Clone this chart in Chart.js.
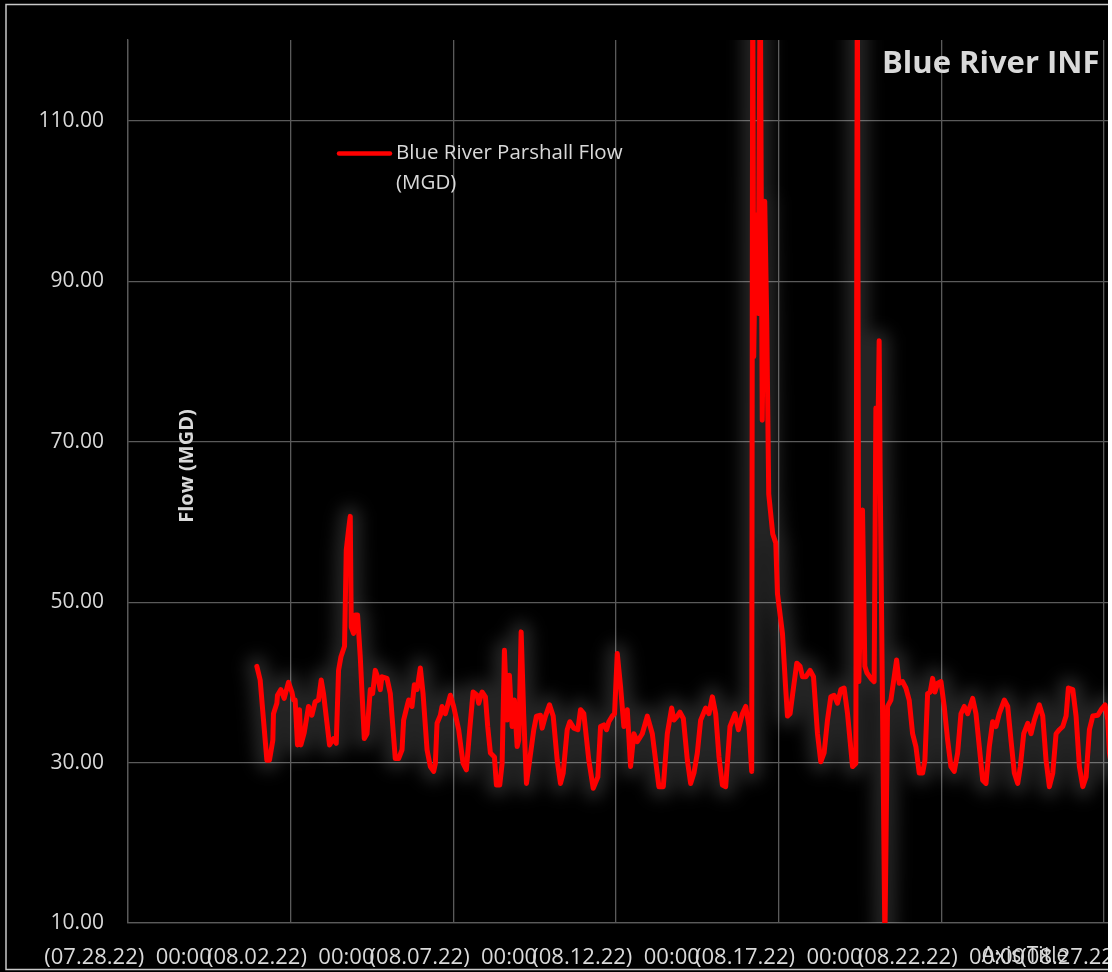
<!DOCTYPE html>
<html>
<head>
<meta charset="utf-8">
<title>Blue River INF</title>
<script src="https://cdn.jsdelivr.net/npm/chart.js@4.4.0/dist/chart.umd.min.js"></script>
<style>
 html, body { margin: 0; padding: 0; background: #fff; }
 #wrap { position: relative; width: 1108px; height: 972px; overflow: hidden; background: #000; }
 #flowChart { position: absolute; left: 0; top: 0; }
</style>
</head>
<body>
<div id="wrap"><canvas id="flowChart" width="1218" height="972"></canvas></div>
<script>
// x values are days after (07.28.22) 00:00
var tickDays = [0, 5, 10, 15, 20, 25, 30];
var tickLabels = [
 "(07.28.22)  00:00",
 "(08.02.22)  00:00",
 "(08.07.22)  00:00",
 "(08.12.22)  00:00",
 "(08.17.22)  00:00",
 "(08.22.22)  00:00",
 "(08.27.22)  00:00",
];
var yTicks = [10, 30, 50, 70, 90, 110];

var flowDays = [
 3.960, 4.062, 4.268, 4.348, 4.452, 4.471, 4.575, 4.594, 4.698, 4.800,
 4.932, 5.037, 5.086, 5.138, 5.209, 5.271, 5.314, 5.415, 5.548, 5.652,
 5.754, 5.855, 5.938, 6.009, 6.194, 6.317, 6.400, 6.471, 6.545, 6.655,
 6.708, 6.778, 6.831, 6.862, 6.932, 6.985, 7.055, 7.138, 7.262, 7.345,
 7.446, 7.517, 7.600, 7.671, 7.754, 7.806, 7.960, 8.062, 8.215, 8.317,
 8.422, 8.471, 8.575, 8.625, 8.729, 8.800, 8.883, 8.985, 9.068, 9.191,
 9.292, 9.394, 9.446, 9.498, 9.600, 9.652, 9.754, 9.908, 10.009, 10.163,
 10.298, 10.400, 10.502, 10.606, 10.729, 10.778, 10.883, 10.985, 11.055, 11.138,
 11.262, 11.323, 11.425, 11.498, 11.569, 11.652, 11.723, 11.806, 11.877, 11.960,
 12.009, 12.083, 12.163, 12.246, 12.317, 12.471, 12.554, 12.677, 12.729, 12.831,
 12.954, 13.068, 13.191, 13.292, 13.375, 13.498, 13.578, 13.702, 13.825, 13.908,
 14.009, 14.163, 14.298, 14.440, 14.523, 14.625, 14.708, 14.778, 14.883, 14.954,
 15.037, 15.138, 15.240, 15.345, 15.446, 15.548, 15.652, 15.806, 15.960, 16.114,
 16.215, 16.317, 16.452, 16.575, 16.708, 16.778, 16.883, 16.963, 17.068, 17.191,
 17.292, 17.394, 17.498, 17.600, 17.754, 17.855, 17.960, 18.062, 18.163, 18.268,
 18.369, 18.502, 18.655, 18.760, 18.883, 18.985, 19.086, 19.169, 19.200, 19.231,
 19.292, 19.369, 19.431, 19.492, 19.569, 19.631, 19.692, 19.815, 19.908, 19.960,
 20.114, 20.215, 20.268, 20.348, 20.471, 20.554, 20.655, 20.729, 20.831, 20.963,
 21.068, 21.191, 21.292, 21.394, 21.498, 21.600, 21.702, 21.806, 21.908, 22.009,
 22.114, 22.268, 22.369, 22.415, 22.462, 22.575, 22.646, 22.708, 22.831, 22.932,
 22.985, 23.031, 23.086, 23.117, 23.262, 23.345, 23.446, 23.548, 23.622, 23.702,
 23.806, 23.908, 24.009, 24.114, 24.215, 24.317, 24.422, 24.492, 24.575, 24.655,
 24.729, 24.800, 24.883, 24.985, 25.086, 25.191, 25.292, 25.394, 25.498, 25.600,
 25.702, 25.806, 25.960, 26.062, 26.163, 26.268, 26.369, 26.471, 26.575, 26.677,
 26.778, 26.932, 27.037, 27.138, 27.240, 27.345, 27.425, 27.529, 27.652, 27.754,
 27.855, 28.009, 28.114, 28.215, 28.317, 28.422, 28.523, 28.625, 28.729, 28.831,
 28.902, 29.037, 29.138, 29.240, 29.345, 29.446, 29.548, 29.652, 29.806, 29.908,
 30.031, 30.114, 30.163, 30.246,
];

var flowMGD = [
 42.0, 40.3, 30.3, 30.3, 32.8, 36.1, 37.4, 38.4, 39.1, 38.0,
 40.0, 38.8, 37.8, 37.8, 32.2, 36.6, 32.2, 33.7, 37.0, 35.9,
 37.6, 37.8, 40.3, 38.6, 32.2, 33.0, 32.4, 41.5, 43.2, 44.5,
 56.5, 59.0, 60.7, 46.9, 46.1, 48.4, 48.4, 43.2, 33.0, 33.6,
 39.1, 38.6, 41.5, 40.7, 39.1, 40.7, 40.5, 38.6, 30.5, 30.5,
 31.6, 35.3, 37.0, 37.8, 37.0, 39.7, 39.1, 41.8, 38.6, 31.6,
 29.5, 28.9, 29.9, 34.9, 35.9, 37.0, 36.1, 38.4, 37.0, 34.1,
 29.9, 29.1, 34.1, 38.8, 38.4, 37.4, 38.8, 38.2, 34.5, 31.2,
 30.7, 27.2, 27.2, 29.9, 44.0, 35.3, 40.9, 34.5, 37.8, 32.0,
 32.8, 46.3, 35.8, 27.4, 29.5, 34.1, 35.8, 35.9, 34.3, 35.8,
 37.2, 35.8, 30.3, 27.4, 28.7, 34.1, 35.1, 34.3, 34.1, 36.6,
 36.1, 30.3, 26.8, 28.2, 34.5, 34.7, 34.1, 35.1, 35.8, 36.1,
 43.6, 39.5, 34.5, 36.6, 29.5, 33.6, 32.6, 33.6, 35.8, 33.6,
 30.3, 27.0, 27.0, 33.6, 36.8, 35.3, 35.8, 36.3, 35.5, 30.3,
 27.4, 28.7, 31.2, 35.3, 36.8, 36.1, 38.2, 36.1, 30.7, 27.2,
 27.0, 34.5, 36.1, 34.1, 36.1, 37.0, 34.5, 28.9, 130.0, 80.6,
 98.3, 86.0, 130.0, 72.7, 100.0, 85.0, 63.5, 58.5, 57.4, 51.1,
 46.1, 39.1, 35.8, 36.1, 39.9, 42.4, 42.0, 40.7, 40.7, 41.5,
 40.7, 33.6, 30.1, 31.2, 35.3, 38.2, 38.4, 37.4, 39.1, 39.3,
 36.1, 29.5, 29.9, 130.0, 40.1, 61.5, 42.0, 41.2, 40.5, 40.1,
 74.2, 66.0, 82.6, 65.8, 8.0, 37.0, 37.8, 40.7, 42.8, 39.9,
 40.1, 39.3, 37.8, 33.6, 32.0, 28.7, 28.7, 30.3, 38.6, 38.8,
 40.5, 38.8, 39.9, 40.1, 37.0, 32.8, 29.5, 28.9, 31.2, 36.1,
 37.0, 36.1, 38.0, 36.1, 32.0, 27.8, 27.4, 32.0, 35.1, 34.5,
 36.1, 37.8, 37.0, 32.8, 28.7, 27.4, 29.5, 33.6, 34.9, 33.6,
 35.3, 37.2, 35.8, 30.3, 27.0, 28.7, 33.6, 34.1, 34.5, 35.8,
 39.3, 39.1, 35.8, 29.5, 27.0, 28.2, 34.1, 35.8, 35.9, 36.6,
 37.2, 35.3, 31.2, 29.0,
];

var seriesName = "Blue River Parshall Flow (MGD)";
var legendLines = ["Blue River Parshall Flow", "(MGD)"];
var chartTitle = "Blue River INF";
var yAxisTitle = "Flow (MGD)";
var xAxisTitle = "Axis Title";

var textColor = "#d9d9d9";
var gridColor = "#5a5a5a";
var lineColor = "#ff0000";
var glowColor = "rgba(255,255,255,0.14)";
var fontName = "'Open Sans', 'DejaVu Sans', sans-serif";

var points = flowDays.map(function (d, i) {
 return { x: d, y: flowMGD[i] };
});

// the second dataset is a blurred grey copy that gives the soft halo
var glowPlugin = {
 id: "glow",
 beforeDatasetDraw: function (chart, args) {
  if (args.index === 1) {
   chart.ctx.save();
   chart.ctx.filter = "blur(8px)";
  }
 },
 afterDatasetDraw: function (chart, args) {
  if (args.index === 1) {
   chart.ctx.restore();
  }
 },
};

var framePlugin = {
 id: "frame",
 beforeDraw: function (chart) {
  var c = chart.ctx;
  c.save();
  c.fillStyle = "#000";
  c.fillRect(0, 0, chart.width, chart.height);
  c.strokeStyle = "#c8c8c8";
  c.lineWidth = 1.5;
  c.strokeRect(6, 4.5, chart.width, 965);
  c.restore();
 },
 afterDraw: function (chart) {
  var c = chart.ctx;
  var area = chart.chartArea;
  c.save();
  c.fillStyle = textColor;

  // title
  c.font = "bold 31px " + fontName;
  c.textAlign = "left";
  c.textBaseline = "alphabetic";
  c.fillText(chartTitle, 882, 73);

  // legend
  c.strokeStyle = lineColor;
  c.lineWidth = 4.5;
  c.lineCap = "round";
  c.beginPath();
  c.moveTo(339, 153.5);
  c.lineTo(390, 153.5);
  c.stroke();
  c.font = "20.5px " + fontName;
  c.textBaseline = "middle";
  c.fillText(legendLines[0], 396, 153);
  c.fillText(legendLines[1], 396, 183);

  // y axis title, inside the plot
  c.save();
  c.translate(193, 466);
  c.rotate(-Math.PI / 2);
  c.font = "bold 20px " + fontName;
  c.textAlign = "center";
  c.textBaseline = "alphabetic";
  c.fillText(yAxisTitle, 0, 0);
  c.restore();

  // x axis title sits on the tick labels
  c.font = "21px " + fontName;
  c.textAlign = "center";
  c.textBaseline = "alphabetic";
  c.fillText(xAxisTitle, 1025, area.bottom + 39);
  c.restore();
 },
};

new Chart(document.getElementById("flowChart"), {
 type: "line",
 data: {
  datasets: [
   {
    label: seriesName,
    data: points,
    borderColor: lineColor,
    borderWidth: 5,
    borderJoinStyle: "round",
    borderCapStyle: "round",
    pointRadius: 0,
    tension: 0,
    fill: false,
    order: 0,
   },
   {
    label: "glow",
    data: points,
    borderColor: glowColor,
    borderWidth: 22,
    borderJoinStyle: "round",
    borderCapStyle: "round",
    pointRadius: 0,
    tension: 0,
    fill: false,
    order: 1,
   },
  ],
 },
 options: {
  responsive: false,
  animation: false,
  layout: {
   autoPadding: false,
   padding: { top: 40, left: 0, right: 0, bottom: 0 },
  },
  plugins: {
   legend: { display: false },
   tooltip: { enabled: false },
  },
  scales: {
   x: {
    type: "linear",
    min: 0,
    max: 33.5,
    afterFit: function (scale) {
     scale.height = 49;
    },
    afterBuildTicks: function (scale) {
     scale.ticks = tickDays.map(function (v) {
      return { value: v };
     });
    },
    ticks: {
     autoSkip: false,
     maxRotation: 0,
     padding: 22,
     color: textColor,
     font: { family: fontName, size: 22 },
     callback: function (value) {
      return tickLabels[tickDays.indexOf(value)];
     },
    },
    grid: { color: gridColor, lineWidth: 1.3, drawTicks: false },
    border: { color: gridColor, width: 1.3 },
   },
   y: {
    min: 10,
    max: 120.1,
    afterFit: function (scale) {
     scale.width = 128;
    },
    afterBuildTicks: function (scale) {
     scale.ticks = yTicks.map(function (v) {
      return { value: v };
     });
    },
    ticks: {
     padding: 24,
     color: textColor,
     font: { family: fontName, size: 21 },
     callback: function (value) {
      return value.toFixed(2);
     },
    },
    grid: { color: gridColor, lineWidth: 1.3, drawTicks: false },
    border: { color: gridColor, width: 1.3 },
   },
  },
 },
 plugins: [glowPlugin, framePlugin],
});
</script>
</body>
</html>
